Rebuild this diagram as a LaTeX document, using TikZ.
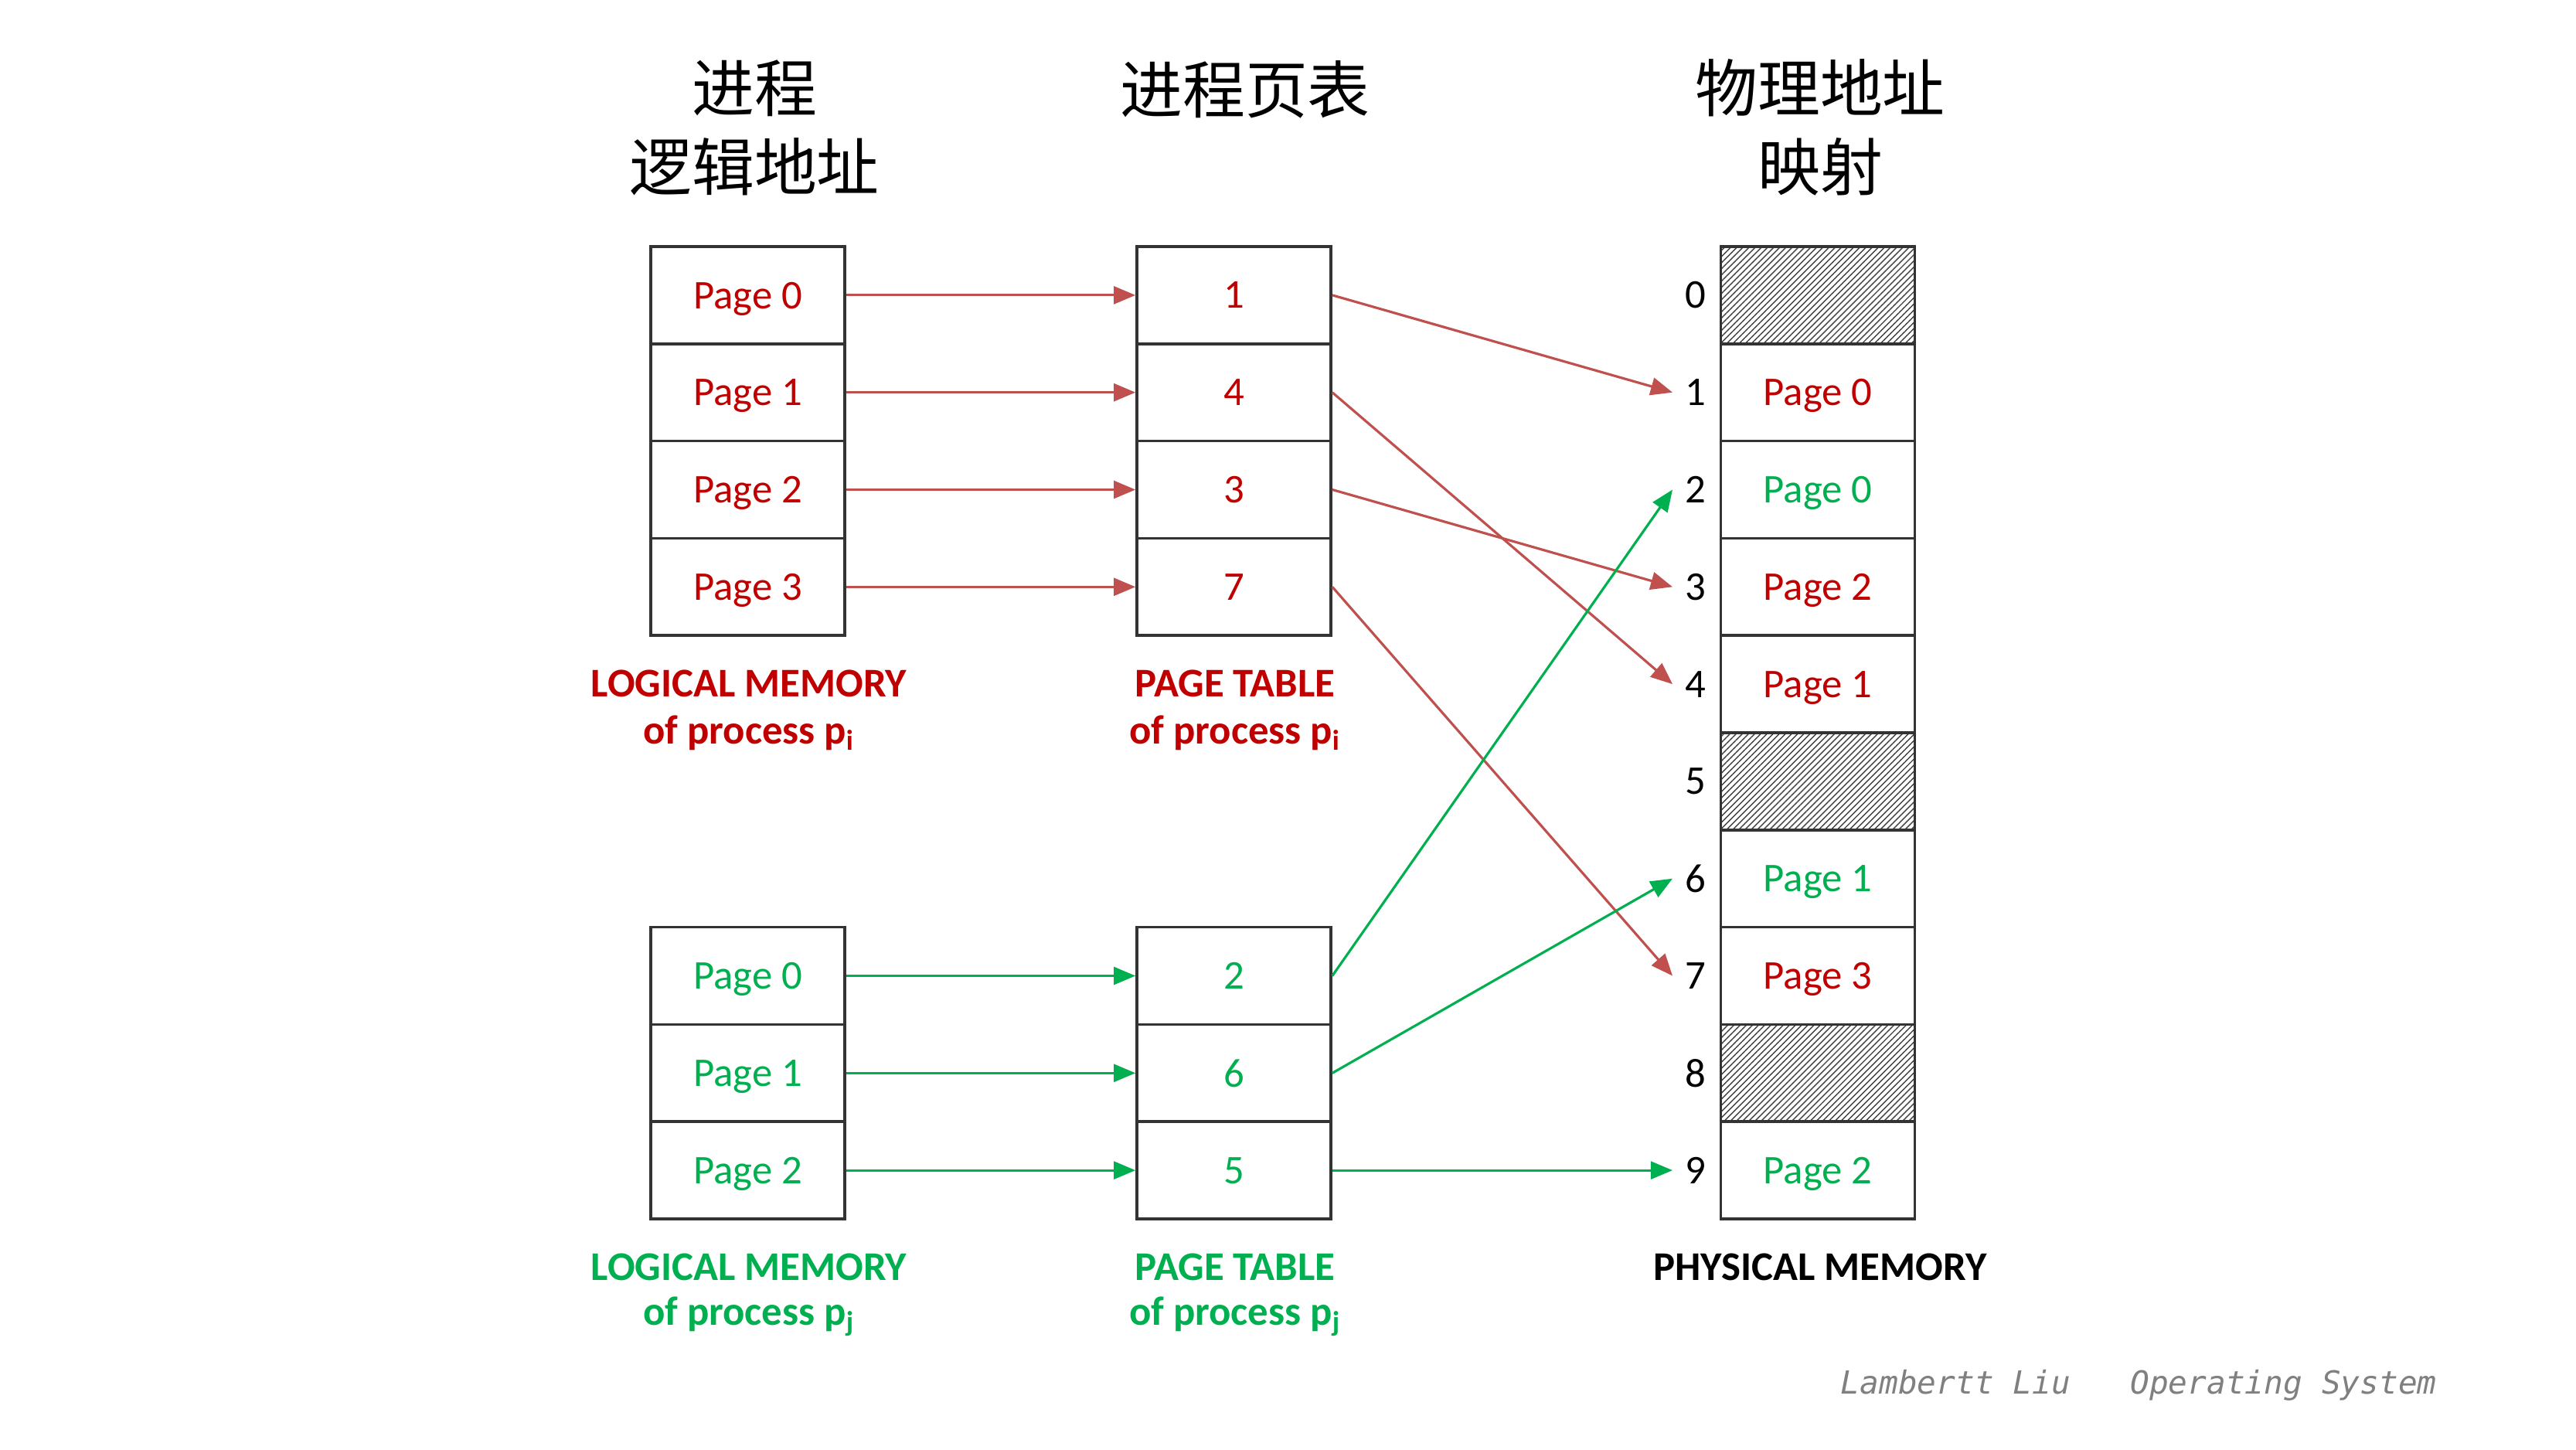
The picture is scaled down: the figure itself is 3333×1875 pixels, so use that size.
\documentclass[tikz,border=0pt]{standalone}
\usepackage{fontspec}
\setmainfont{Carlito}
\newfontfamily\cjkf{Noto Sans CJK SC}
\newfontfamily\footf{DejaVu Sans Mono}
\usetikzlibrary{arrows.meta,patterns.meta}
\definecolor{tred}{HTML}{C00000}
\definecolor{tgreen}{HTML}{00B050}
\definecolor{ared}{HTML}{C0504D}
\definecolor{agreen}{HTML}{00B050}
\begin{document}
\begin{tikzpicture}[x=0.01cm,y=-0.01cm,
  cell/.style={draw=black!80,line width=1pt,minimum width=2.51cm,minimum height=1.258cm,inner sep=0pt,text depth=0pt,font=\fontsize{15pt}{18pt}\selectfont},
  hatch/.style={cell,pattern={Lines[angle=45,distance=1.6pt,line width=0.4pt]},pattern color=black!75},
  fnum/.style={anchor=west,inner ysep=0pt,inner xsep=4.6pt,font=\fontsize{15pt}{18pt}\selectfont},
  lab/.style={font=\bfseries\fontsize{15pt}{18pt}\selectfont,inner sep=0pt},
  sub/.style={font=\bfseries\fontsize{15pt}{18pt}\selectfont,inner sep=0pt},
  head/.style={font=\cjkf\fontsize{23pt}{29pt}\selectfont,align=center,inner sep=0pt},
  rarr/.style={draw=ared,line width=0.9pt,-{Triangle[length=8pt,width=6.5pt]}},
  garr/.style={draw=agreen,line width=0.9pt,-{Triangle[length=8pt,width=6.5pt]}}
]
\useasboundingbox[fill=white] (0,0) rectangle (3333,1875);

% headers
\node[head] (h1) at (976,165) {进程\\逻辑地址};
\node[head] (h2) at (1611,116) {进程页表};
\node[head] (h3) at (2355,165) {物理地址\\映射};

% logical memory p_i
\node[cell,text=tred] (L0) at (967.5,381.9) {Page 0};
\node[cell,text=tred] (L1) at (967.5,507.7) {Page 1};
\node[cell,text=tred] (L2) at (967.5,633.5) {Page 2};
\node[cell,text=tred] (L3) at (967.5,759.3) {Page 3};
% page table p_i
\node[cell,text=tred] (P0) at (1596.5,381.9) {1};
\node[cell,text=tred] (P1) at (1596.5,507.7) {4};
\node[cell,text=tred] (P2) at (1596.5,633.5) {3};
\node[cell,text=tred] (P3) at (1596.5,759.3) {7};
% logical memory p_j
\node[cell,text=tgreen] (M0) at (967.5,1262.5) {Page 0};
\node[cell,text=tgreen] (M1) at (967.5,1388.3) {Page 1};
\node[cell,text=tgreen] (M2) at (967.5,1514.1) {Page 2};
% page table p_j
\node[cell,text=tgreen] (Q0) at (1596.5,1262.5) {2};
\node[cell,text=tgreen] (Q1) at (1596.5,1388.3) {6};
\node[cell,text=tgreen] (Q2) at (1596.5,1514.1) {5};

% physical memory
\node[hatch] (F0) at (2352,381.9) {};
\node[cell,text=tred] (F1) at (2352,507.7) {Page 0};
\node[cell,text=tgreen] (F2) at (2352,633.5) {Page 0};
\node[cell,text=tred] (F3) at (2352,759.3) {Page 2};
\node[cell,text=tred] (F4) at (2352,885.1) {Page 1};
\node[hatch] (F5) at (2352,1010.9) {};
\node[cell,text=tgreen] (F6) at (2352,1136.7) {Page 1};
\node[cell,text=tred] (F7) at (2352,1262.5) {Page 3};
\node[hatch] (F8) at (2352,1388.3) {};
\node[cell,text=tgreen] (F9) at (2352,1514.1) {Page 2};

% frame numbers
\node[fnum] (n0) at (2164,381.9) {0};
\node[fnum] (n1) at (2164,507.7) {1};
\node[fnum] (n2) at (2164,633.5) {2};
\node[fnum] (n3) at (2164,759.3) {3};
\node[fnum] (n4) at (2164,885.1) {4};
\node[fnum] (n5) at (2164,1010.9) {5};
\node[fnum] (n6) at (2164,1136.7) {6};
\node[fnum] (n7) at (2164,1262.5) {7};
\node[fnum] (n8) at (2164,1388.3) {8};
\node[fnum] (n9) at (2164,1514.1) {9};

% captions
\node[lab,text=tred] (c1) at (969,884) {LOGICAL MEMORY};
\node[sub,text=tred] (c1b) at (969,948) {of process p\textsubscript{i}};
\node[lab,text=tred] (c2) at (1598,884) {PAGE TABLE};
\node[sub,text=tred] (c2b) at (1598,948) {of process p\textsubscript{i}};
\node[lab,text=tgreen] (c3) at (969,1639) {LOGICAL MEMORY};
\node[sub,text=tgreen] (c3b) at (969,1703) {of process p\textsubscript{j}};
\node[lab,text=tgreen] (c4) at (1598,1639) {PAGE TABLE};
\node[sub,text=tgreen] (c4b) at (1598,1703) {of process p\textsubscript{j}};
\node[lab] (c5) at (2355,1639) {PHYSICAL MEMORY};

% arrows logical -> page table
\draw[rarr] (L0.east) -- (P0.west);
\draw[rarr] (L1.east) -- (P1.west);
\draw[rarr] (L2.east) -- (P2.west);
\draw[rarr] (L3.east) -- (P3.west);
\draw[garr] (M0.east) -- (Q0.west);
\draw[garr] (M1.east) -- (Q1.west);
\draw[garr] (M2.east) -- (Q2.west);

% arrows page table -> frames
\draw[rarr] (P0.east) -- (n1.west);
\draw[rarr] (P1.east) -- (n4.west);
\draw[rarr] (P2.east) -- (n3.west);
\draw[rarr] (P3.east) -- (n7.west);
\draw[garr] (Q0.east) -- (n2.west);
\draw[garr] (Q1.east) -- (n6.west);
\draw[garr] (Q2.east) -- (n9.west);

% footer
\node[anchor=west,inner sep=0pt,text=black!50,font=\footf\itshape\fontsize{11.7pt}{14pt}\selectfont] (ft) at (2381,1792) {Lambertt Liu\hspace{22pt}Operating System};
\end{tikzpicture}
\end{document}
